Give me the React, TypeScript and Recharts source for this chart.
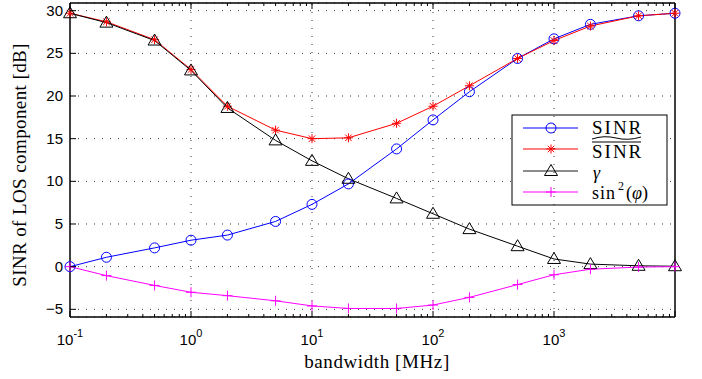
import React from 'react';
import { LineChart, Line, XAxis, YAxis, CartesianGrid, ReferenceLine, Customized } from 'recharts';

// bandwidth in MHz
const bandwidth = [0.1, 0.2, 0.5, 1, 2, 5, 10, 20, 50, 100, 200, 500, 1000, 2000, 5000, 10000];

// SINR with tilde (blue circles)
const sinrTilde = [0, 1.1, 2.2, 3.1, 3.7, 5.3, 7.3, 9.7, 13.8, 17.2, 20.5, 24.4, 26.7, 28.4, 29.4, 29.7];
// SINR with bar (red stars)
const sinrBar = [29.7, 28.7, 26.6, 23.1, 18.8, 16.0, 15.0, 15.1, 16.8, 18.8, 21.2, 24.4, 26.5, 28.2, 29.4, 29.7];
// gamma (black triangles)
const gamma = [29.7, 28.6, 26.5, 23.0, 18.6, 14.8, 12.4, 10.3, 8.0, 6.2, 4.4, 2.4, 0.9, 0.3, 0.1, 0.05];
// sin^2(phi) (magenta plus)
const sinSq = [0, -1.05, -2.2, -3.0, -3.4, -4.0, -4.6, -4.9, -4.9, -4.5, -3.6, -2.1, -0.95, -0.3, -0.05, 0];

const xTicks = [
  0.1, 0.2, 0.3, 0.4, 0.5, 0.6, 0.7, 0.8, 0.9,
  1, 2, 3, 4, 5, 6, 7, 8, 9,
  10, 20, 30, 40, 50, 60, 70, 80, 90,
  100, 200, 300, 400, 500, 600, 700, 800, 900,
  1000, 2000, 3000, 4000, 5000, 6000, 7000, 8000, 9000, 10000,
];
const xGrid = [1, 10, 100, 1000];
const yTicks = [-5, 0, 5, 10, 15, 20, 25, 30];

const data = bandwidth.map((bw, i) => ({
  bw,
  sinrTilde: sinrTilde[i],
  sinrBar: sinrBar[i],
  gamma: gamma[i],
  sinSq: sinSq[i],
}));

const BLUE = '#0000ff';
const RED = '#ff0000';
const BLACK = '#000000';
const MAGENTA = '#ff00ff';

const tickFont = '"Liberation Sans", Arial, sans-serif';
const serif = '"Liberation Serif", "Times New Roman", serif';

const CircleMark = ({ cx, cy }: { cx: number; cy: number }) => (
  <circle cx={cx} cy={cy} r={5} fill="none" stroke={BLUE} strokeWidth={1} />
);
const StarMark = ({ cx, cy }: { cx: number; cy: number }) => {
  const r = 4.5;
  const d = r * 0.72;
  return (
    <g stroke={RED} strokeWidth={1}>
      <line x1={cx - r} y1={cy} x2={cx + r} y2={cy} />
      <line x1={cx} y1={cy - r} x2={cx} y2={cy + r} />
      <line x1={cx - d} y1={cy - d} x2={cx + d} y2={cy + d} />
      <line x1={cx - d} y1={cy + d} x2={cx + d} y2={cy - d} />
    </g>
  );
};
const TriMark = ({ cx, cy }: { cx: number; cy: number }) => (
  <polygon
    points={`${cx},${cy - 6.5} ${cx - 6.5},${cy + 4.5} ${cx + 6.5},${cy + 4.5}`}
    fill="none"
    stroke={BLACK}
    strokeWidth={1}
  />
);
const PlusMark = ({ cx, cy }: { cx: number; cy: number }) => (
  <g stroke={MAGENTA} strokeWidth={1}>
    <line x1={cx - 5} y1={cy} x2={cx + 5} y2={cy} />
    <line x1={cx} y1={cy - 5} x2={cx} y2={cy + 5} />
  </g>
);

const dotOf = (Mark: React.FC<{ cx: number; cy: number }>) => (p: any) =>
  <Mark key={`m-${p.index}`} cx={p.cx} cy={p.cy} />;

const XTick = (props: any) => {
  const { x, y, payload, top } = props;
  const v = payload.value;
  const lg = Math.log10(v);
  const e = Math.round(lg);
  const major = Math.abs(lg - e) < 1e-6;
  const len = major ? 6 : 3;
  const dir = top ? 1 : -1;
  return (
    <g>
      <line x1={x} x2={x} y1={y} y2={y + dir * len} stroke="#000" strokeWidth={1} />
      {!top && major && e < 4 && (
        <text x={x} y={y + 28} textAnchor="middle" fontSize={15} fontFamily={tickFont} fill="#000">
          10
          <tspan dy={-8} fontSize={11}>{String(e)}</tspan>
        </text>
      )}
    </g>
  );
};

const YTick = (props: any) => {
  const { x, y, payload, right } = props;
  const v = payload.value;
  return (
    <g>
      <line x1={x} x2={right ? x - 6 : x + 6} y1={y} y2={y} stroke="#000" strokeWidth={1} />
      {!right && (
        <text x={x - 7} y={y + 5} textAnchor="end" fontSize={15} fontFamily={tickFont} fill="#000">
          {v < 0 ? `\u2212${Math.abs(v)}` : String(v)}
        </text>
      )}
    </g>
  );
};

const legendRows = [
  { Mark: CircleMark, color: BLUE, width: 1 },
  { Mark: StarMark, color: RED, width: 1 },
  { Mark: TriMark, color: '#666666', width: 1.5 },
  { Mark: PlusMark, color: MAGENTA, width: 1 },
];

const LegendBox = () => {
  const rowY = [128, 149, 171, 192];
  return (
    <g>
      <rect x={512} y={115} width={155} height={90} fill="#fff" stroke="#000" strokeWidth={1} />
      {legendRows.map((r, i) => (
        <g key={i}>
          <line x1={523} x2={578} y1={rowY[i]} y2={rowY[i]} stroke={r.color} strokeWidth={r.width} />
          <r.Mark cx={551} cy={rowY[i]} />
        </g>
      ))}
      {/* SINR with under-tilde */}
      <text x={592} y={134} fontSize={19} fontFamily={serif} letterSpacing={2} fill="#000">
        SINR
      </text>
      <path d="M592 139 Q604 135 616 138 T641 137" fill="none" stroke="#000" strokeWidth={1} />
      {/* SINR with bar */}
      <line x1={592} x2={641} y1={142} y2={142} stroke="#000" strokeWidth={1} />
      <text x={592} y={158} fontSize={19} fontFamily={serif} letterSpacing={2} fill="#000">
        SINR
      </text>
      <text x={593} y={179} fontSize={18} fontFamily={serif} fontStyle="italic" fill="#000">
        {'\u03b3'}
      </text>
      <text x={592} y={199} fontSize={18} fontFamily={serif} letterSpacing={1} fill="#000">
        sin
      </text>
      <text x={618} y={190} fontSize={12} fontFamily={serif} fill="#000">
        2
      </text>
      <text x={626} y={199} fontSize={18} fontFamily={serif} fill="#000">
        (<tspan fontStyle="italic">{'\u03c6'}</tspan>)
      </text>
    </g>
  );
};

const AxisTitles = () => (
  <g>
    <text x={377} y={368} textAnchor="middle" fontSize={19} fontFamily={serif} letterSpacing={0.6} fill="#000">
      bandwidth [MHz]
    </text>
    <text
      x={0}
      y={0}
      transform="translate(26,165) rotate(-90)"
      textAnchor="middle"
      fontSize={19}
      fontFamily={serif}
      letterSpacing={0.4}
      fill="#000"
    >
      SINR of LOS component [dB]
    </text>
  </g>
);

export default function App() {
  return (
    <div style={{ position: 'absolute', left: 0, top: 0, width: 702, height: 379, background: '#fff' }}>
      <LineChart width={702} height={379} data={data} margin={{ top: 0, right: 0, bottom: 0, left: 0 }}>
        <CartesianGrid vertical={false} stroke="#000" strokeWidth={0.8} strokeDasharray="1 7" />
        {xGrid.map((v) => (
          <ReferenceLine key={v} x={v} stroke="#000" strokeWidth={0.8} strokeDasharray="1 7" />
        ))}
        <XAxis
          dataKey="bw"
          type="number"
          scale="log"
          domain={[0.1, 10000]}
          ticks={xTicks}
          interval={0}
          height={62}
          tickSize={0}
          tickMargin={0}
          tickLine={false}
          axisLine={{ stroke: '#000', strokeWidth: 1.5 }}
          tick={(p: any) => <XTick {...p} />}
        />
        <XAxis
          xAxisId="top"
          orientation="top"
          dataKey="bw"
          type="number"
          scale="log"
          domain={[0.1, 10000]}
          ticks={xTicks}
          interval={0}
          height={3}
          tickSize={0}
          tickMargin={0}
          tickLine={false}
          axisLine={{ stroke: '#000', strokeWidth: 1.5 }}
          tick={(p: any) => <XTick {...p} top />}
        />
        <YAxis
          type="number"
          domain={[-5.9, 30.9]}
          ticks={yTicks}
          interval={0}
          width={70}
          tickSize={0}
          tickMargin={0}
          tickLine={false}
          axisLine={{ stroke: '#000', strokeWidth: 1.5 }}
          tick={(p: any) => <YTick {...p} />}
        />
        <YAxis
          yAxisId="right"
          orientation="right"
          type="number"
          domain={[-5.9, 30.9]}
          ticks={yTicks}
          interval={0}
          width={27}
          tickSize={0}
          tickMargin={0}
          tickLine={false}
          axisLine={{ stroke: '#000', strokeWidth: 1.5 }}
          tick={(p: any) => <YTick {...p} right />}
        />
        <Line dataKey="sinrTilde" stroke={BLUE} strokeWidth={1} dot={dotOf(CircleMark)} activeDot={false} isAnimationActive={false} />
        <Line dataKey="sinrBar" stroke={RED} strokeWidth={1} dot={dotOf(StarMark)} activeDot={false} isAnimationActive={false} />
        <Line dataKey="gamma" stroke={BLACK} strokeWidth={1} dot={dotOf(TriMark)} activeDot={false} isAnimationActive={false} />
        <Line dataKey="sinSq" stroke={MAGENTA} strokeWidth={1} dot={dotOf(PlusMark)} activeDot={false} isAnimationActive={false} />
        <Customized component={AxisTitles} />
        <Customized component={LegendBox} />
      </LineChart>
    </div>
  );
}
